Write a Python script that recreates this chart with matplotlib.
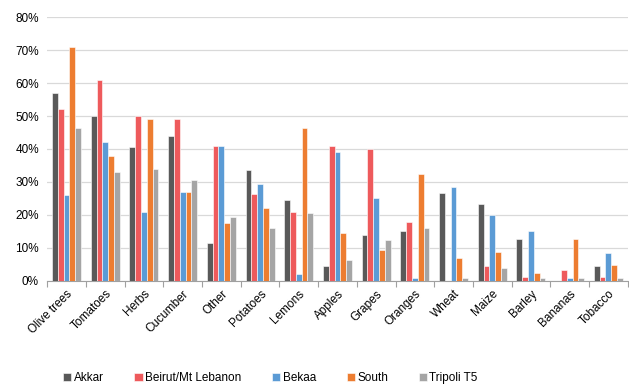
import matplotlib.pyplot as plt
import numpy as np

plt.rcParams['font.family'] = ['Liberation Sans', 'DejaVu Sans']

crops = ['Olive trees', 'Tomatoes', 'Herbs', 'Cucumber', 'Other', 'Potatoes', 'Lemons',
         'Apples', 'Grapes', 'Oranges', 'Wheat', 'Maize', 'Barley', 'Bananas', 'Tobacco']
regions = ['Akkar', 'Beirut/Mt Lebanon', 'Bekaa', 'South', 'Tripoli T5']

akkar = [57, 50, 40.5, 44, 11.5, 33.5, 24.5, 4.5, 14, 15, 26.7, 23.2, 12.8, 0, 4.6]
beirut = [52, 61, 50, 49, 41, 26.5, 21, 41, 40, 18, 0, 4.5, 1.1, 3.4, 1.1]
bekaa = [26, 42, 21, 27, 41, 29.5, 2, 39, 25, 1, 28.5, 20, 15.2, 1, 8.5]
south = [71, 38, 49, 27, 17.5, 22, 46.5, 14.5, 9.5, 32.5, 7, 8.7, 2.4, 12.7, 4.7]
tripoli = [46.5, 33, 34, 30.5, 19.5, 16, 20.5, 6.5, 12.5, 16, 1, 4, 1, 1, 1]

colors = ['#595959', '#EE5A5C', '#5B9BD5', '#ED7D31', '#A5A5A5']
series = [akkar, beirut, bekaa, south, tripoli]

fig = plt.figure(figsize=(6.29, 3.87), dpi=100)
ax = fig.add_axes([0.075, 0.274, 0.923, 0.682])

x = np.arange(len(crops))
w = 0.15
for i, (vals, c, name) in enumerate(zip(series, colors, regions)):
    ax.bar(x + (i - 2) * w, np.array(vals) / 100, w, color=c, label=name,
           edgecolor='white', linewidth=0.4, zorder=3)

ax.set_xlim(-0.5, len(crops) - 0.5)
ax.set_ylim(0, 0.8)
ax.set_yticks(np.arange(0, 0.81, 0.1))
ax.set_yticklabels([f'{int(round(v * 100))}%' for v in np.arange(0, 0.81, 0.1)], fontsize=8.5)
ax.yaxis.grid(True, color='#D9D9D9', linewidth=0.9, zorder=0)
ax.tick_params(axis='y', length=0, pad=6)

ax.set_xticks(x)
ax.set_xticklabels(crops, rotation=45, ha='right', rotation_mode='anchor', fontsize=8.5)
ax.tick_params(axis='x', which='major', length=0, pad=5)
ax.set_xticks(np.arange(-0.5, len(crops), 1), minor=True)
ax.tick_params(axis='x', which='minor', length=4, color='#A0A0A0', width=0.8)

for s in ['top', 'right', 'left']:
    ax.spines[s].set_visible(False)
ax.spines['bottom'].set_color('#A0A0A0')

fig.legend(loc='center', bbox_to_anchor=(0.43, 0.023), ncol=5, frameon=False,
           fontsize=8.5, handlelength=0.7, handleheight=0.7, handletextpad=0.2,
           columnspacing=2.6)

fig.savefig('out.png', dpi=100)
